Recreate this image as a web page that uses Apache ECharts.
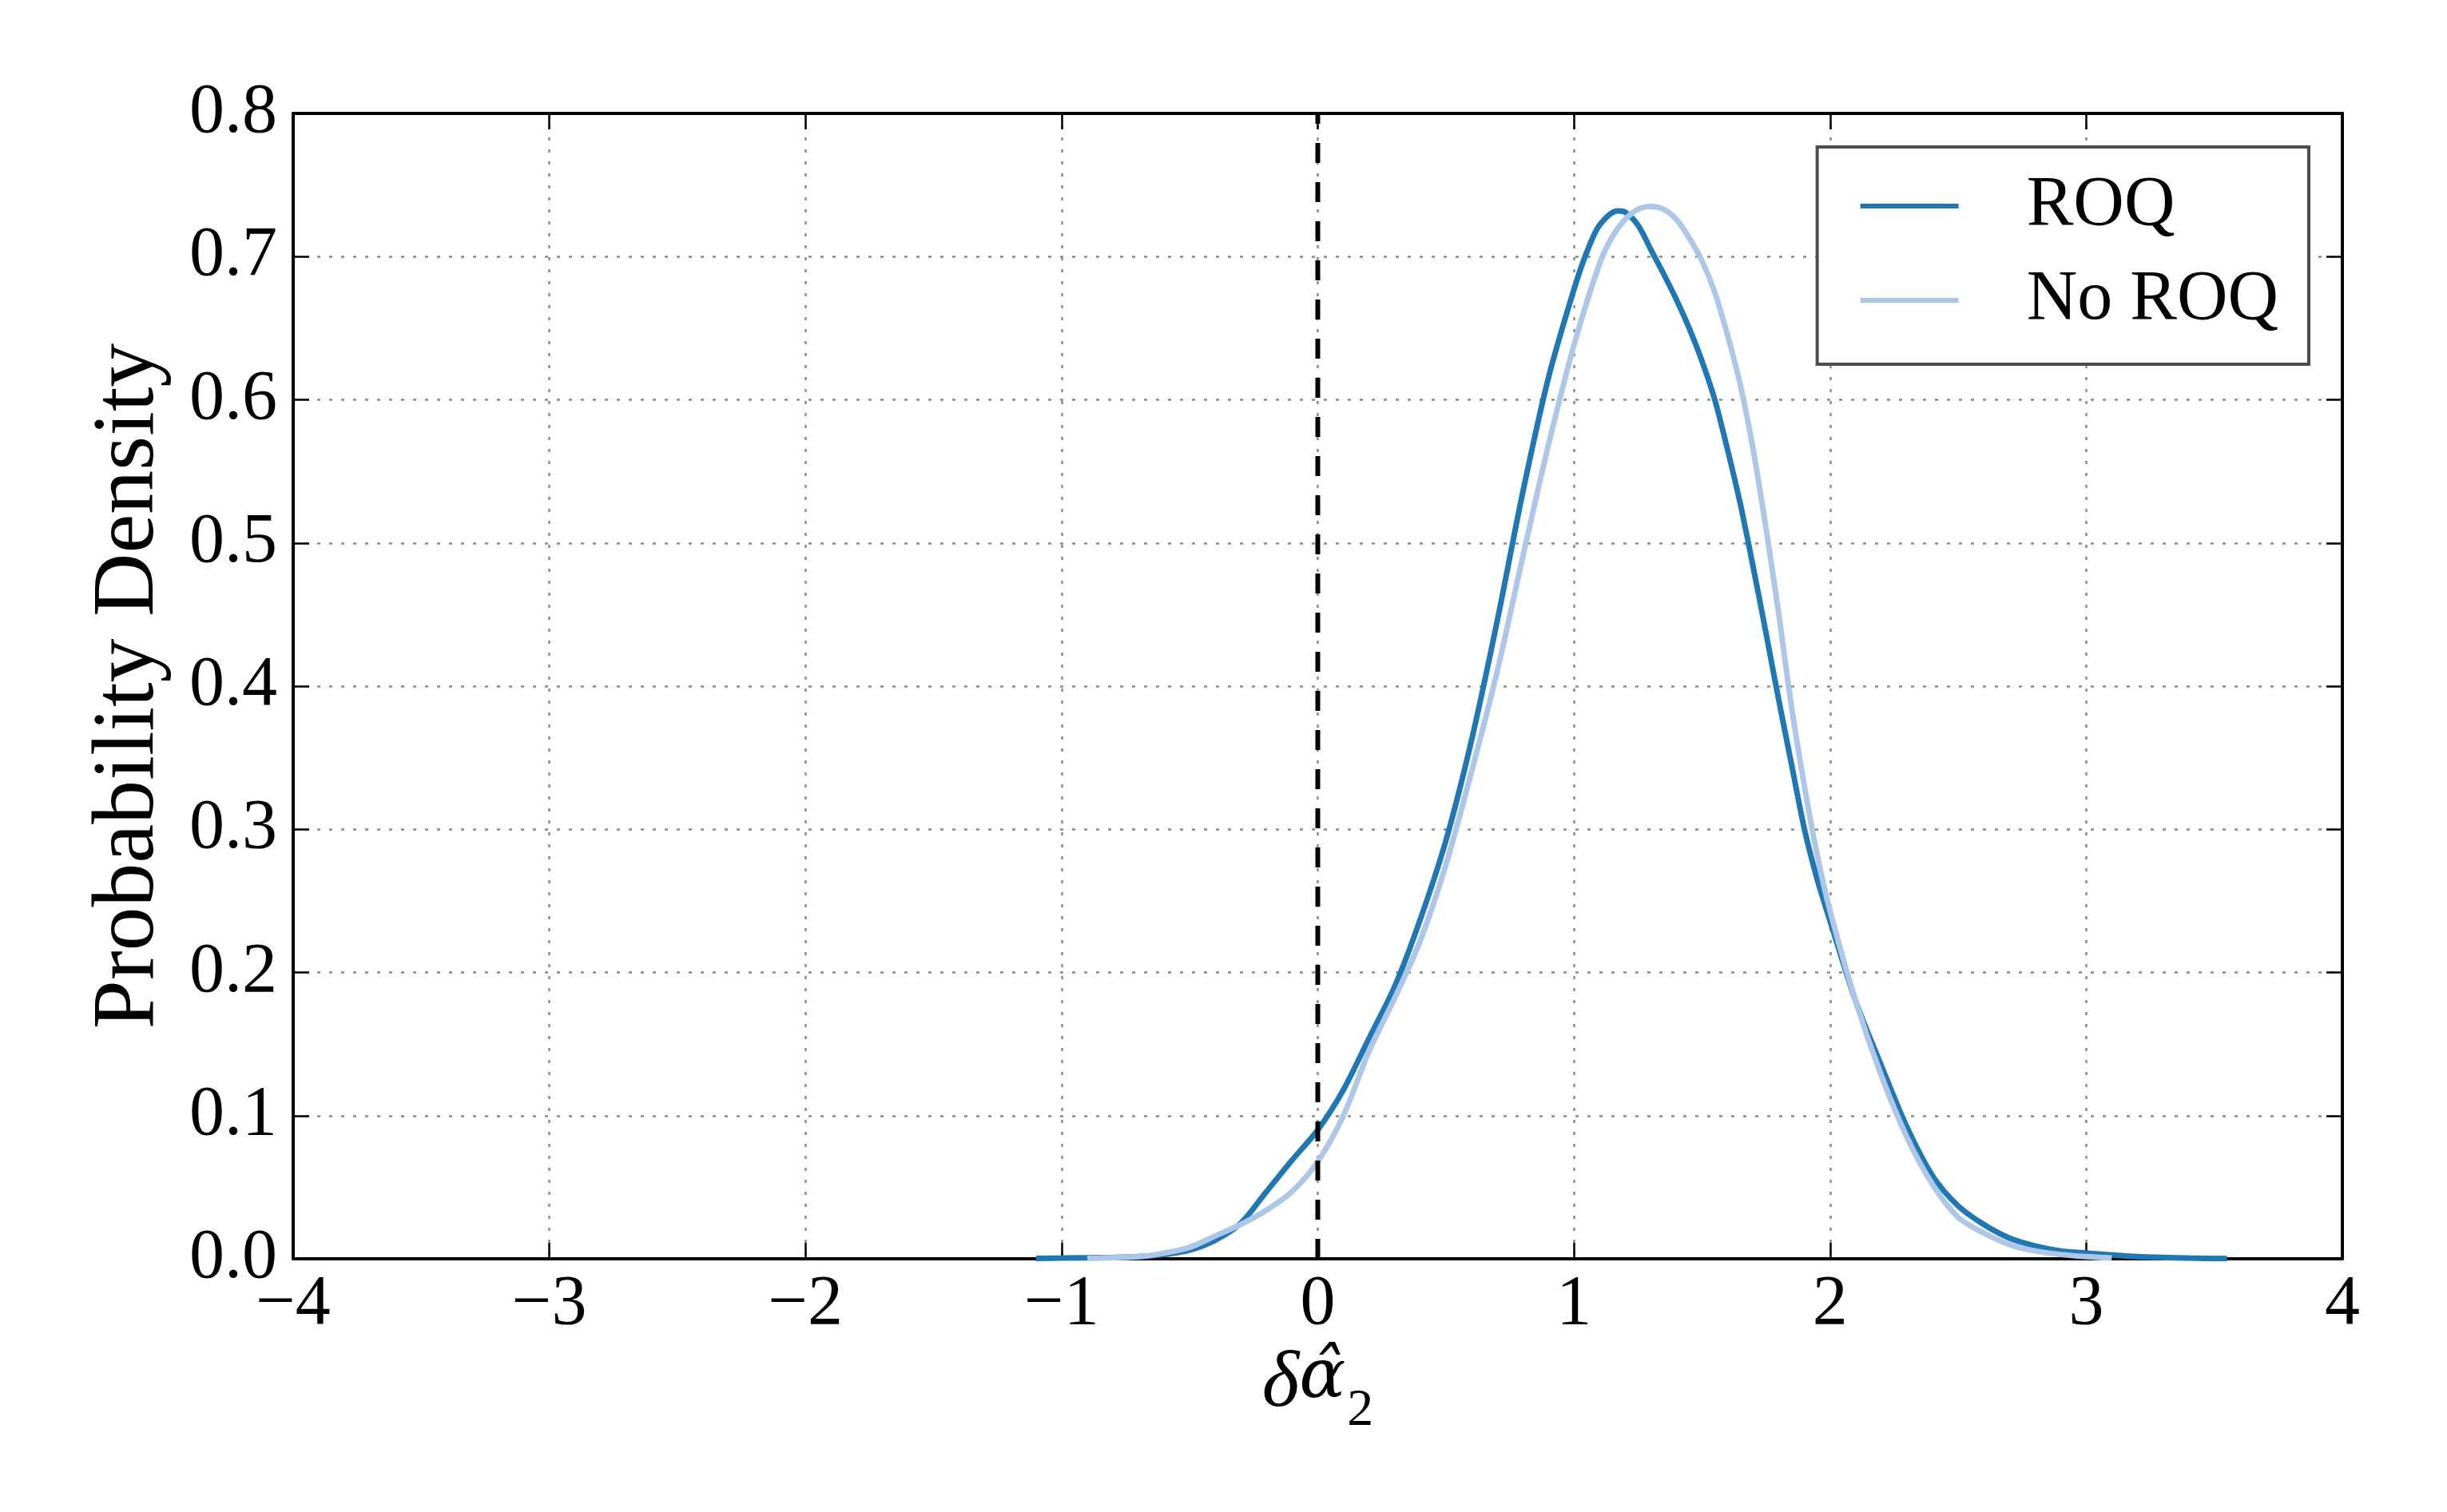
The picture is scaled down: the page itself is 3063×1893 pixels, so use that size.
<!DOCTYPE html>
<html>
<head>
<meta charset="utf-8">
<script src="https://cdn.jsdelivr.net/npm/echarts@6/dist/echarts.min.js"></script>
<style>
html,body{margin:0;padding:0;background:#fff;}
#c{width:3063px;height:1893px;}
</style>
</head>
<body>
<div id="c"></div>
<script>
// ---- data ----
const seriesNames = ['ROQ', 'No ROQ'];
const roqX = [-1.1,-1.0,-0.8,-0.7,-0.6,-0.5,-0.4,-0.3,-0.2,-0.1,0.0,0.1,0.2,0.3,0.4,0.5,0.6,0.7,0.8,0.9,1.0,1.05,1.1,1.17,1.2,1.25,1.3,1.35,1.4,1.45,1.5,1.55,1.6,1.65,1.7,1.75,1.8,1.85,1.9,1.95,2.0,2.1,2.2,2.3,2.4,2.5,2.6,2.7,2.8,2.9,3.0,3.2,3.4,3.55];
const roqY = [0.0003,0.0005,0.001,0.0015,0.003,0.006,0.013,0.025,0.047,0.069,0.090,0.118,0.154,0.190,0.237,0.292,0.362,0.445,0.535,0.615,0.677,0.703,0.722,0.732,0.731,0.722,0.705,0.688,0.670,0.650,0.627,0.600,0.565,0.527,0.483,0.437,0.390,0.345,0.300,0.265,0.236,0.180,0.135,0.092,0.058,0.037,0.024,0.0145,0.009,0.0055,0.004,0.0015,0.0005,0.0002];
const noRoqX = [-0.9,-0.8,-0.7,-0.6,-0.5,-0.4,-0.3,-0.2,-0.1,0.0,0.1,0.2,0.3,0.4,0.5,0.6,0.7,0.8,0.9,1.0,1.1,1.15,1.2,1.25,1.3,1.35,1.4,1.45,1.5,1.55,1.6,1.65,1.7,1.75,1.8,1.85,1.9,1.95,2.0,2.1,2.2,2.3,2.4,2.5,2.6,2.7,2.8,2.9,3.0,3.1];
const noRoqY = [0.0003,0.0008,0.0015,0.004,0.008,0.016,0.024,0.034,0.047,0.068,0.100,0.145,0.182,0.222,0.275,0.340,0.410,0.490,0.568,0.638,0.695,0.714,0.726,0.733,0.735,0.733,0.726,0.713,0.697,0.675,0.645,0.610,0.565,0.510,0.450,0.385,0.330,0.282,0.243,0.180,0.128,0.085,0.052,0.029,0.018,0.010,0.0055,0.003,0.0015,0.0005];
const refLineX = [0, 0];
const refLineY = [0, 0.8];
const xRange = [-4, 4, 1];
const yRange = [0, 0.8, 0.1];

const FONT = 'Liberation Serif';
const zip = (xs, ys) => xs.map((x, i) => [x, ys[i]]);
const fmtX = v => (v < 0 ? '\u2212' + Math.abs(v) : String(v));
const fmtY = v => v.toFixed(1);

const gridLine = {show: true, lineStyle: {color: '#8a8a8a', width: 2.5, type: [4, 11]}};
const frameLine = {show: true, onZero: false, lineStyle: {color: '#000', width: 4}};
const tick = {show: true, inside: true, length: 20, lineStyle: {color: '#000', width: 2.5}};

const chart = echarts.init(document.getElementById('c'), null, {renderer: 'canvas'});
chart.setOption({
  backgroundColor: '#fff',
  animation: false,
  grid: {left: 367, top: 142, width: 2565, height: 1434, containLabel: false},
  xAxis: [{
    type: 'value', min: xRange[0], max: xRange[1], interval: xRange[2],
    axisLine: frameLine, axisTick: tick, splitLine: gridLine,
    axisLabel: {formatter: fmtX, fontFamily: FONT, fontSize: 88, color: '#000', margin: 14},
    name: '{d|\u03b4}{a|\u03b1\u0302}{s|2}', nameLocation: 'middle', nameGap: 108,
    nameTextStyle: {
      fontFamily: FONT, color: '#000',
      rich: {
        d: {fontFamily: FONT, fontStyle: 'italic', fontSize: 100, lineHeight: 100, verticalAlign: 'top', color: '#000'},
        a: {fontFamily: 'DejaVu Serif', fontStyle: 'italic', fontSize: 86, lineHeight: 100, verticalAlign: 'top', color: '#000'},
        s: {fontFamily: FONT, fontSize: 66, lineHeight: 66, padding: [50, 0, 0, 2], verticalAlign: 'top', color: '#000'}
      }
    }
  }, {
    type: 'value', position: 'top', min: xRange[0], max: xRange[1], interval: xRange[2],
    axisLine: frameLine, axisTick: tick, splitLine: {show: false}, axisLabel: {show: false}
  }],
  yAxis: [{
    type: 'value', min: yRange[0], max: yRange[1], interval: yRange[2],
    axisLine: frameLine, axisTick: tick, splitLine: gridLine,
    axisLabel: {formatter: fmtY, fontFamily: FONT, fontSize: 88, color: '#000', margin: 20},
    name: 'Probability Density', nameLocation: 'middle', nameGap: 150,
    nameTextStyle: {fontFamily: FONT, fontSize: 110, color: '#000'}
  }, {
    type: 'value', position: 'right', min: yRange[0], max: yRange[1], interval: yRange[2],
    axisLine: frameLine, axisTick: tick, splitLine: {show: false}, axisLabel: {show: false}
  }],
  legend: {
    show: true, orient: 'vertical', right: 173, top: 184,
    padding: [30, 38, 36, 54], itemGap: 30, itemWidth: 123, itemHeight: 6,
    backgroundColor: '#fff', borderColor: '#4d4d4d', borderWidth: 4, borderRadius: 0,
    data: seriesNames.map(n => ({name: n, icon: 'rect'})),
    formatter: n => '{t|' + n + '}',
    textStyle: {
      fontFamily: FONT, fontSize: 88, color: '#000',
      rich: {t: {fontFamily: FONT, fontSize: 88, lineHeight: 100, padding: [0, 0, 0, 80], color: '#000'}}
    }
  },
  series: [{
    name: seriesNames[0], type: 'line', data: zip(roqX, roqY), showSymbol: false, symbol: 'none',
    smooth: 0.3, lineStyle: {color: '#1f77b4', width: 7}, itemStyle: {color: '#1f77b4'}, z: 3
  }, {
    name: seriesNames[1], type: 'line', data: zip(noRoqX, noRoqY), showSymbol: false, symbol: 'none',
    smooth: 0.3, lineStyle: {color: '#aec7e8', width: 7}, itemStyle: {color: '#aec7e8'}, z: 4
  }, {
    name: 'ref', type: 'line', data: zip(refLineX, refLineY), showSymbol: false, symbol: 'none',
    lineStyle: {color: '#000', width: 6, type: [25, 24]}, z: 5, silent: true
  }]
});
</script>
</body>
</html>
